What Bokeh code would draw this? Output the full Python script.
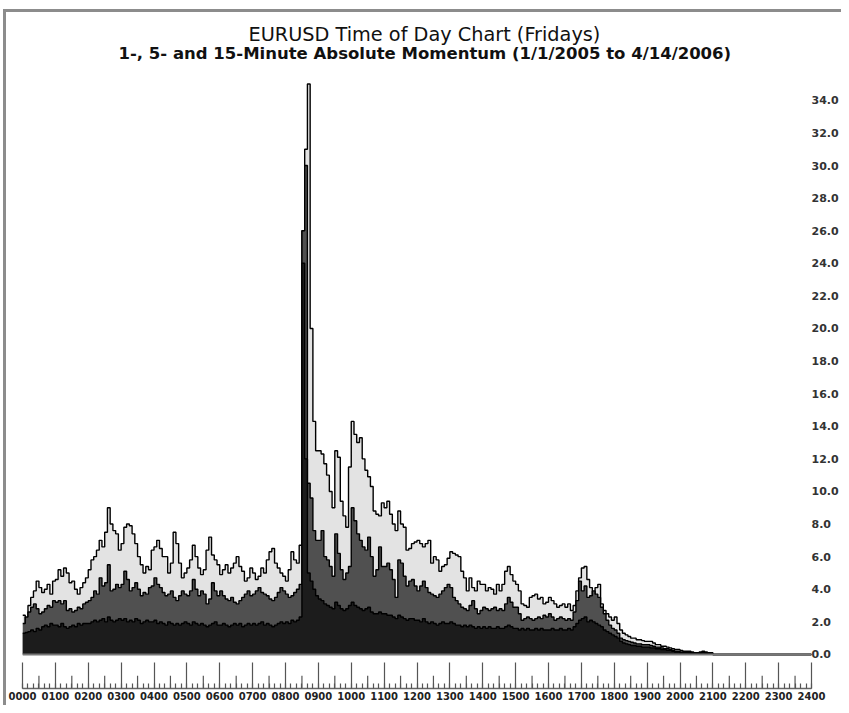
import numpy as np
from bokeh.plotting import figure
from bokeh.models import Range1d, FixedTicker, Title, Span, NumeralTickFormatter, ColumnDataSource
from bokeh.embed import file_html
from bokeh.resources import INLINE

title_text = "EURUSD Time of Day Chart (Fridays)"
subtitle_text = "1-, 5- and 15-Minute Absolute Momentum (1/1/2005  to  4/14/2006)"

step_minutes = 5  # one value every 5 minutes from 0000

# 15-minute absolute momentum (light gray)
mom15 = [
    2.4, 1.9, 3.0, 3.5, 3.9, 4.5, 4.1, 3.8, 4.0, 4.3, 3.7, 4.5,
    4.6, 5.2, 4.8, 5.3, 5.0, 4.4, 4.5, 4.0, 3.7, 4.1, 4.4, 4.7,
    5.2, 5.8, 6.0, 6.4, 7.0, 6.6, 7.5, 9.0, 8.0, 7.6, 7.4, 6.4,
    6.8, 7.8, 8.0, 7.9, 7.4, 6.8, 6.0, 5.5, 5.0, 5.4, 5.2, 6.4,
    6.6, 7.0, 6.5, 6.0, 6.0, 5.0, 5.6, 7.5, 6.8, 5.6, 4.7, 5.0,
    5.3, 5.8, 6.7, 6.0, 5.3, 4.9, 5.2, 6.4, 7.2, 6.1, 5.8, 5.5,
    4.9, 5.2, 5.5, 5.0, 5.3, 5.6, 6.0, 5.4, 5.1, 4.5, 4.7, 5.3,
    5.0, 4.6, 4.8, 5.3, 5.0, 5.8, 6.3, 6.5, 5.6, 5.3, 5.0, 4.8,
    4.5, 5.2, 6.3, 5.8, 5.6, 6.7, 26.0, 31.0, 35.0, 20.0, 14.3, 12.5,
    12.5, 12.3, 11.7, 11.0, 10.0, 9.0, 12.5, 12.1, 9.4, 8.5, 7.8, 11.5,
    14.3, 13.5, 13.0, 13.3, 12.0, 11.3, 10.9, 10.3, 8.8, 8.6, 8.5, 9.3,
    9.0, 9.4, 8.6, 8.0, 7.6, 8.8, 8.0, 7.8, 6.4, 6.5, 6.8, 6.9,
    7.0, 6.8, 6.6, 6.8, 7.0, 5.6, 6.0, 5.8, 5.1, 5.4, 5.5, 5.9,
    6.3, 6.2, 6.1, 6.0, 5.1, 4.7, 3.9, 4.7, 4.1, 3.9, 4.5, 4.3,
    4.3, 3.9, 4.1, 4.0, 3.7, 4.3, 3.9, 4.3, 5.1, 5.4, 4.9, 4.5,
    4.3, 3.9, 3.1, 3.0, 2.9, 3.5, 3.6, 3.7, 3.4, 3.5, 3.1, 3.2,
    3.5, 3.3, 3.1, 2.9, 3.0, 3.1, 2.9, 3.1, 2.7, 3.0, 3.9, 4.7,
    5.3, 5.4, 4.6, 4.1, 3.5, 4.1, 4.3, 3.1, 2.7, 2.5, 2.3, 2.1,
    2.3, 1.9, 1.5, 1.3, 1.2, 1.1, 1.0, 1.0, 0.9, 0.9, 0.85, 0.8,
    0.8, 0.8, 0.7, 0.6, 0.6, 0.5, 0.5, 0.45, 0.4, 0.35, 0.3, 0.3,
    0.25, 0.2, 0.2, 0.2, 0.15, 0.1, 0.1, 0.15, 0.2, 0.15, 0.1, 0.1,
]

# 5-minute absolute momentum (dark gray)
mom5 = [
    1.9, 2.3, 2.6, 2.9, 3.1, 2.8, 2.5, 2.6, 2.8, 3.0, 2.9, 3.3,
    3.2, 3.3, 3.1, 3.3, 2.7, 2.8, 2.6, 2.7, 2.9, 2.8, 3.1, 3.2,
    3.3, 3.5, 3.9, 3.7, 4.7, 4.2, 4.4, 5.5, 3.9, 4.0, 4.3, 4.1,
    4.3, 5.1, 4.6, 3.9, 4.1, 4.4, 4.0, 3.6, 3.8, 3.7, 4.1, 4.2,
    4.7, 4.3, 4.1, 3.8, 3.6, 3.7, 3.9, 3.5, 3.3, 3.6, 3.9, 3.7,
    3.6, 3.9, 4.6, 4.0, 3.6, 3.9, 3.7, 3.1, 3.4, 4.4, 3.9, 3.6,
    3.9, 3.6, 3.4, 3.3, 3.5, 3.2, 3.1, 3.3, 3.5, 3.7, 3.9, 3.6,
    3.7, 3.9, 4.1, 3.8, 3.7, 3.6, 3.4, 3.3, 3.5, 3.8, 4.1, 3.9,
    3.7, 3.5, 3.6, 3.8, 4.0, 4.3, 26.0, 30.0, 10.5, 9.6, 7.6, 7.0,
    7.0, 7.6, 6.0, 5.8, 5.4, 4.8, 7.4, 6.2, 5.2, 4.6, 5.0, 5.4,
    9.0, 8.2, 7.4, 7.0, 6.6, 6.4, 7.2, 6.0, 4.8, 5.2, 6.6, 5.4,
    5.4, 5.6, 5.2, 4.6, 3.5, 5.8, 5.6, 4.8, 4.2, 4.5, 4.6, 4.2,
    3.9, 4.2, 4.5, 4.1, 3.8, 3.7, 3.6, 3.5, 3.7, 3.9, 4.1, 4.3,
    4.1, 3.5, 3.3, 3.1, 2.9, 2.8, 2.7, 3.0, 3.3, 2.8, 2.5, 2.7,
    2.9, 2.8, 2.7, 2.8, 2.9, 2.7, 2.8, 2.7, 3.1, 3.5, 3.2, 2.9,
    2.9, 2.5, 2.1, 2.2, 2.3, 2.2, 2.1, 2.2, 2.3, 2.2, 2.4, 2.3,
    2.5, 2.3, 2.1, 2.2, 2.3, 2.2, 2.1, 2.2, 2.1, 2.6, 3.3, 4.5,
    3.9, 4.2, 3.5, 3.6, 3.9, 3.7, 3.5, 2.9, 2.5, 2.1, 1.8, 1.6,
    1.5, 1.3, 1.0, 0.9, 0.85, 0.8, 0.75, 0.7, 0.65, 0.65, 0.6, 0.6,
    0.6, 0.55, 0.5, 0.45, 0.45, 0.4, 0.35, 0.35, 0.3, 0.25, 0.2, 0.2,
    0.15, 0.15, 0.15, 0.12, 0.1, 0.08, 0.08, 0.1, 0.12, 0.1, 0.08, 0.05,
]

# 1-minute absolute momentum (black)
mom1 = [
    1.3, 1.35, 1.4, 1.5, 1.4, 1.6, 1.5, 1.7, 1.8, 1.7, 1.9, 1.8,
    1.8, 1.7, 1.9, 1.7, 1.6, 1.7, 1.8, 1.7, 1.9, 1.8, 1.9, 1.9,
    1.9, 2.0, 2.1, 2.0, 2.1, 2.2, 2.0, 2.3, 2.1, 2.0, 2.1, 2.2,
    2.1, 2.2, 2.0, 2.1, 2.0, 2.2, 2.1, 1.9, 2.0, 2.1, 2.0, 2.0,
    2.1, 1.9, 2.0, 1.9, 1.8, 2.0, 1.9, 1.8, 1.9, 1.8, 1.9, 2.0,
    1.9, 1.8, 2.0, 1.9, 1.8, 1.9, 1.8, 1.7, 1.8, 1.9, 2.0, 1.8,
    1.8, 1.9, 1.8, 1.7, 1.8, 1.9, 1.8, 1.9, 1.7, 1.8, 1.9, 1.8,
    1.9, 1.8, 1.9, 2.0, 1.8, 1.9, 1.8, 1.7, 1.8, 1.9, 2.0, 1.9,
    2.0, 1.9, 2.1, 2.0, 2.1, 2.3, 24.0, 12.0, 5.0, 4.5, 4.0, 3.6,
    3.4, 3.3, 3.1, 3.0, 2.9, 2.8, 3.2, 3.0, 2.8, 2.7, 2.8, 3.0,
    3.2, 3.0, 2.9, 2.8, 2.7, 2.8, 2.9, 2.6, 2.5, 2.5, 2.6, 2.5,
    2.5, 2.4, 2.4, 2.3, 2.2, 2.4, 2.3, 2.2, 2.1, 2.2, 2.2, 2.1,
    2.1, 2.0, 2.2, 2.0, 1.9, 2.0, 1.9, 1.8, 1.9, 2.0, 1.9, 1.9,
    2.0, 1.9, 1.8, 1.8, 1.7, 1.8, 1.7, 1.8, 1.7, 1.6, 1.7, 1.6,
    1.7, 1.6, 1.7, 1.6, 1.6, 1.7, 1.6, 1.6, 1.7, 1.8, 1.7, 1.6,
    1.6, 1.5, 1.6, 1.5, 1.6, 1.5, 1.5, 1.6, 1.5, 1.6, 1.5, 1.5,
    1.5, 1.6, 1.5, 1.5, 1.6, 1.5, 1.5, 1.6, 1.5, 1.7, 1.9, 2.1,
    2.2, 2.3, 2.0, 2.1, 2.0, 1.9, 1.8, 1.7, 1.5, 1.4, 1.3, 1.2,
    1.1, 1.0, 0.8, 0.7, 0.65, 0.6, 0.55, 0.55, 0.5, 0.5, 0.45, 0.45,
    0.45, 0.4, 0.4, 0.35, 0.35, 0.3, 0.3, 0.25, 0.25, 0.2, 0.15, 0.15,
    0.1, 0.1, 0.1, 0.08, 0.06, 0.05, 0.05, 0.06, 0.08, 0.06, 0.05, 0.03,
]

hour_labels = ["%02d00" % h for h in range(25)]
y_ticks = [0, 2, 4, 6, 8, 10, 12, 14, 16, 18, 20, 22, 24, 26, 28, 30, 32, 34]

n_points = 24 * 60 // step_minutes + 1
def pad(vals):
    return list(vals) + [0.0] * (n_points - len(vals))

t = np.arange(n_points) * step_minutes / 60.0
src = ColumnDataSource(dict(t=t, m15=pad(mom15), m5=pad(mom5), m1=pad(mom1), z=np.zeros(n_points)))

Y0 = -2.09
p = figure(width=841, height=705, x_range=Range1d(0, 24), y_range=Range1d(Y0, 35.83),
           y_axis_location="right", toolbar_location=None, output_backend="svg", title=None,
           min_border_left=22, min_border_right=23, min_border_top=70, min_border_bottom=17)
p.grid.visible = False
p.outline_line_color = None
p.background_fill_color = "white"
p.border_fill_color = None
p.styles = {"box-shadow": "inset 3px 9px 0 0 #ffffff, inset 6px 12px 0 0 #8c8c8c",
            "background-color": "#ffffff"}

series = [("m15", "#e3e3e3"), ("m5", "#505050"), ("m1", "#1c1c1c")]
for col, fill in series:
    p.varea_step(x="t", y1="z", y2=col, step_mode="after", fill_color=fill, source=src)
    p.step(x="t", y=col, mode="after", line_color="#000000", line_width=1.4, source=src)

p.add_layout(Span(location=0, dimension="width", line_color="#777777", line_width=2))

# half-hour medium ticks on the time scale
half_hours = np.arange(24) + 0.5
p.segment(x0=half_hours, y0=np.full(24, Y0), x1=half_hours, y1=np.full(24, Y0 + 0.78),
          line_color="#555555", line_width=1.2)

xa = p.xaxis[0]
xa.ticker = FixedTicker(ticks=list(range(25)), minor_ticks=[i / 6 for i in range(145)])
xa.major_label_overrides = {h: lab for h, lab in enumerate(hour_labels)}
xa.major_tick_in = 26
xa.major_tick_out = 0
xa.minor_tick_in = 5
xa.minor_tick_out = 0
xa.axis_line_color = "#666666"
xa.axis_line_width = 1.5
xa.major_tick_line_color = "#555555"
xa.major_tick_line_width = 1.2
xa.minor_tick_line_color = "#555555"
xa.minor_tick_line_width = 1.2
xa.major_label_standoff = 3
xa.major_label_text_font = "DejaVu Sans"
xa.major_label_text_font_style = "bold"
xa.major_label_text_font_size = "10px"
xa.major_label_text_color = "#222222"

ya = p.yaxis[0]
ya.ticker = FixedTicker(ticks=y_ticks)
ya.formatter = NumeralTickFormatter(format="0.0")
ya.major_tick_in = 0
ya.major_tick_out = 0
ya.minor_tick_in = 0
ya.minor_tick_out = 0
ya.axis_line_color = None
ya.major_label_standoff = 0
ya.major_label_text_font = "DejaVu Sans"
ya.major_label_text_font_style = "bold"
ya.major_label_text_font_size = "11px"
ya.major_label_text_color = "#333333"

sub = Title(text=subtitle_text, align="left", text_font="DejaVu Sans", text_font_style="bold",
            text_font_size="16.5px", text_color="#111111", standoff=15, offset=96)
main = Title(text=title_text, align="left", text_font="DejaVu Sans", text_font_style="normal",
             text_font_size="19.3px", text_color="#111111", standoff=-22, offset=226)
p.add_layout(sub, "above")
p.add_layout(main, "above")

open("out.html", "w").write(file_html(p, INLINE))
